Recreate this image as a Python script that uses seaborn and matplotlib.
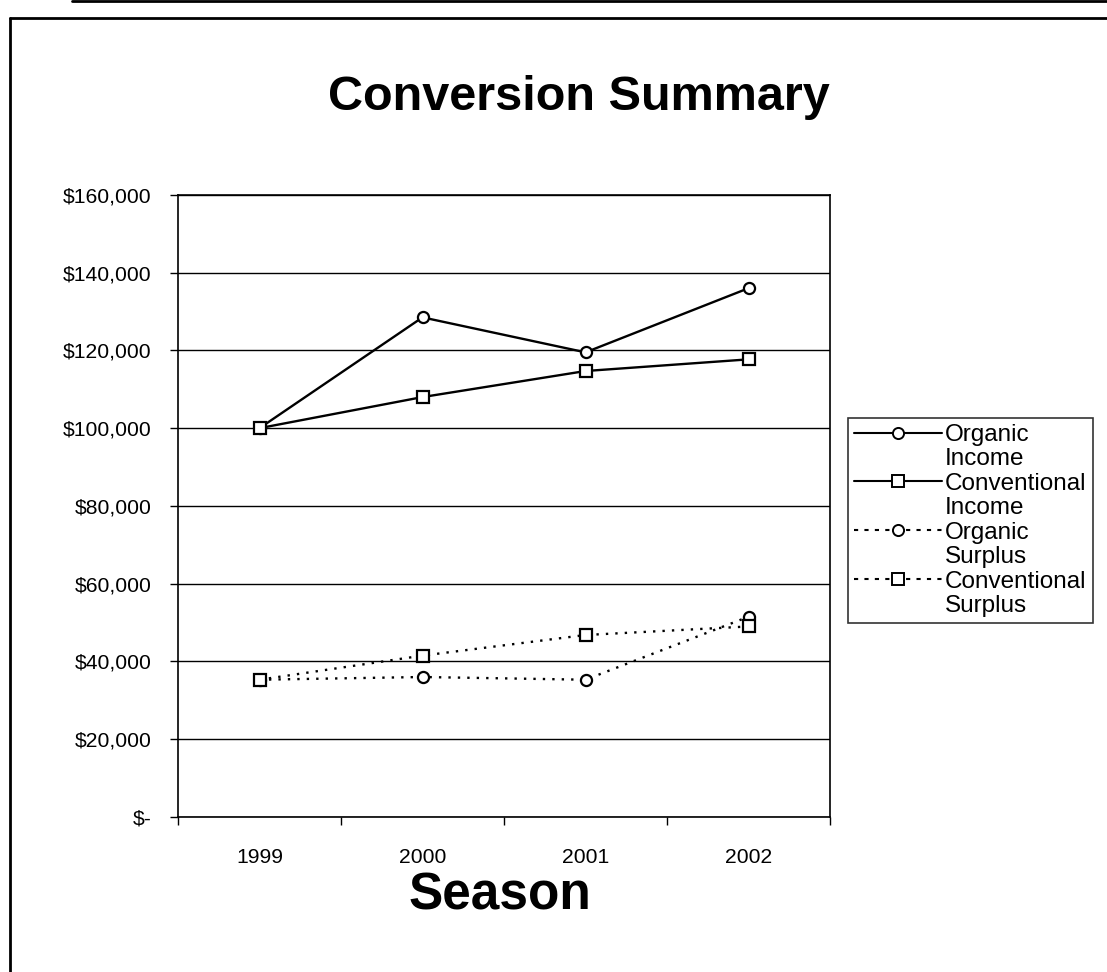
import matplotlib
matplotlib.use("Agg")
import matplotlib.pyplot as plt
from matplotlib.lines import Line2D
import seaborn as sns
import numpy as np

seasons = ["1999", "2000", "2001", "2002"]
organic_income = [100000, 128500, 119500, 136000]
conventional_income = [100000, 108000, 114700, 117700]
organic_surplus = [35300, 36000, 35300, 51500]
conventional_surplus = [35300, 41500, 46800, 49000]
series_names = ["Organic Income", "Conventional Income", "Organic Surplus", "Conventional Surplus"]
y_ticks = [0, 20000, 40000, 60000, 80000, 100000, 120000, 140000, 160000]
y_tick_labels = ["$-", "$20,000", "$40,000", "$60,000", "$80,000", "$100,000",
                 "$120,000", "$140,000", "$160,000"]

sns.set_theme(style="white")
plt.rcParams['font.family'] = ['Liberation Sans', 'DejaVu Sans']
plt.rcParams['text.color'] = 'black'
plt.rcParams['xtick.color'] = 'black'
plt.rcParams['ytick.color'] = 'black'
plt.rcParams['axes.labelcolor'] = 'black'

fig = plt.figure(figsize=(11.07, 9.72), dpi=100)
ax = fig.add_axes([0.1608, 0.1595, 0.589, 0.64])

xpos = np.arange(len(seasons))
dot = (0, (1.0, 3.0))
styles = [
    dict(marker="o", linestyle="-"),
    dict(marker="s", linestyle="-"),
    dict(marker="o", linestyle=dot),
    dict(marker="s", linestyle=dot),
]
all_vals = [organic_income, conventional_income, organic_surplus, conventional_surplus]
for vals, st in zip(all_vals, styles):
    sns.lineplot(x=xpos, y=vals, ax=ax, color="black", linewidth=1.7,
                 marker=st["marker"], markersize=8, markerfacecolor="white",
                 markeredgecolor="black", markeredgewidth=1.6,
                 linestyle=st["linestyle"], legend=False)

ax.set_xlim(-0.5, 3.5)
ax.set_ylim(0, 160000)
ax.set_yticks(y_ticks)
ax.set_yticklabels(y_tick_labels, fontsize=15.2, color="black")
ax.set_xticks(xpos)
ax.set_xticklabels(seasons, fontsize=15.2, color="black")
ax.set_xticks(np.arange(-0.5, 4.0, 1.0), minor=True)
ax.tick_params(axis="x", which="major", length=0, pad=22)
ax.tick_params(axis="x", which="minor", length=6, width=1, direction="out", color="black", bottom=True)
ax.tick_params(axis="y", which="major", length=6, width=1, direction="out", color="black", left=True, pad=13)
ax.grid(axis="y", color="black", linewidth=1)
ax.grid(axis="x", visible=False)
for s in ax.spines.values():
    s.set_color("black")
    s.set_linewidth(1.2)
ax.set_xlabel("")
ax.set_ylabel("")

fig.text(0.523, 0.900, "Conversion Summary", ha="center", va="center",
         fontsize=35, fontweight="bold", color="black")
fig.text(0.452, 0.078, "Season", ha="center", va="center",
         fontsize=37, fontweight="bold", color="black")

# legend: handle on first line, wrapped second line with empty handle
blank = Line2D([], [], linestyle="none", marker=None)
handles, labels = [], []
lines = ax.get_lines()
for ln, name, st in zip(lines, series_names, styles):
    first, second = name.split(" ")
    lstyle = "-" if st["linestyle"] == "-" else (0, (2.0, 3.0))
    h = Line2D([], [], color="black", linewidth=1.5, linestyle=lstyle,
               marker=ln.get_marker(), markersize=8, markerfacecolor="white",
               markeredgecolor="black", markeredgewidth=1.4)
    handles += [h, blank]
    labels += [first, second]
leg = fig.legend(handles, labels, loc="upper left", bbox_to_anchor=(0.766, 0.570),
                 fontsize=17.5, frameon=True, fancybox=False, edgecolor="black",
                 labelspacing=0.1, handlelength=3.6, handletextpad=0.15,
                 borderpad=0.25, borderaxespad=0)
leg.get_frame().set_linewidth(1.2)
for t in leg.get_texts():
    t.set_color("black")

# outer frame lines
fig.add_artist(Line2D([0.009, 0.009], [0.0, 0.981], color="black", linewidth=2, transform=fig.transFigure))
fig.add_artist(Line2D([0.009, 1.0], [0.981, 0.981], color="black", linewidth=2, transform=fig.transFigure))
fig.add_artist(Line2D([0.065, 1.0], [0.999, 0.999], color="black", linewidth=2, transform=fig.transFigure))

fig.savefig("out.png", dpi=100, facecolor="white")
